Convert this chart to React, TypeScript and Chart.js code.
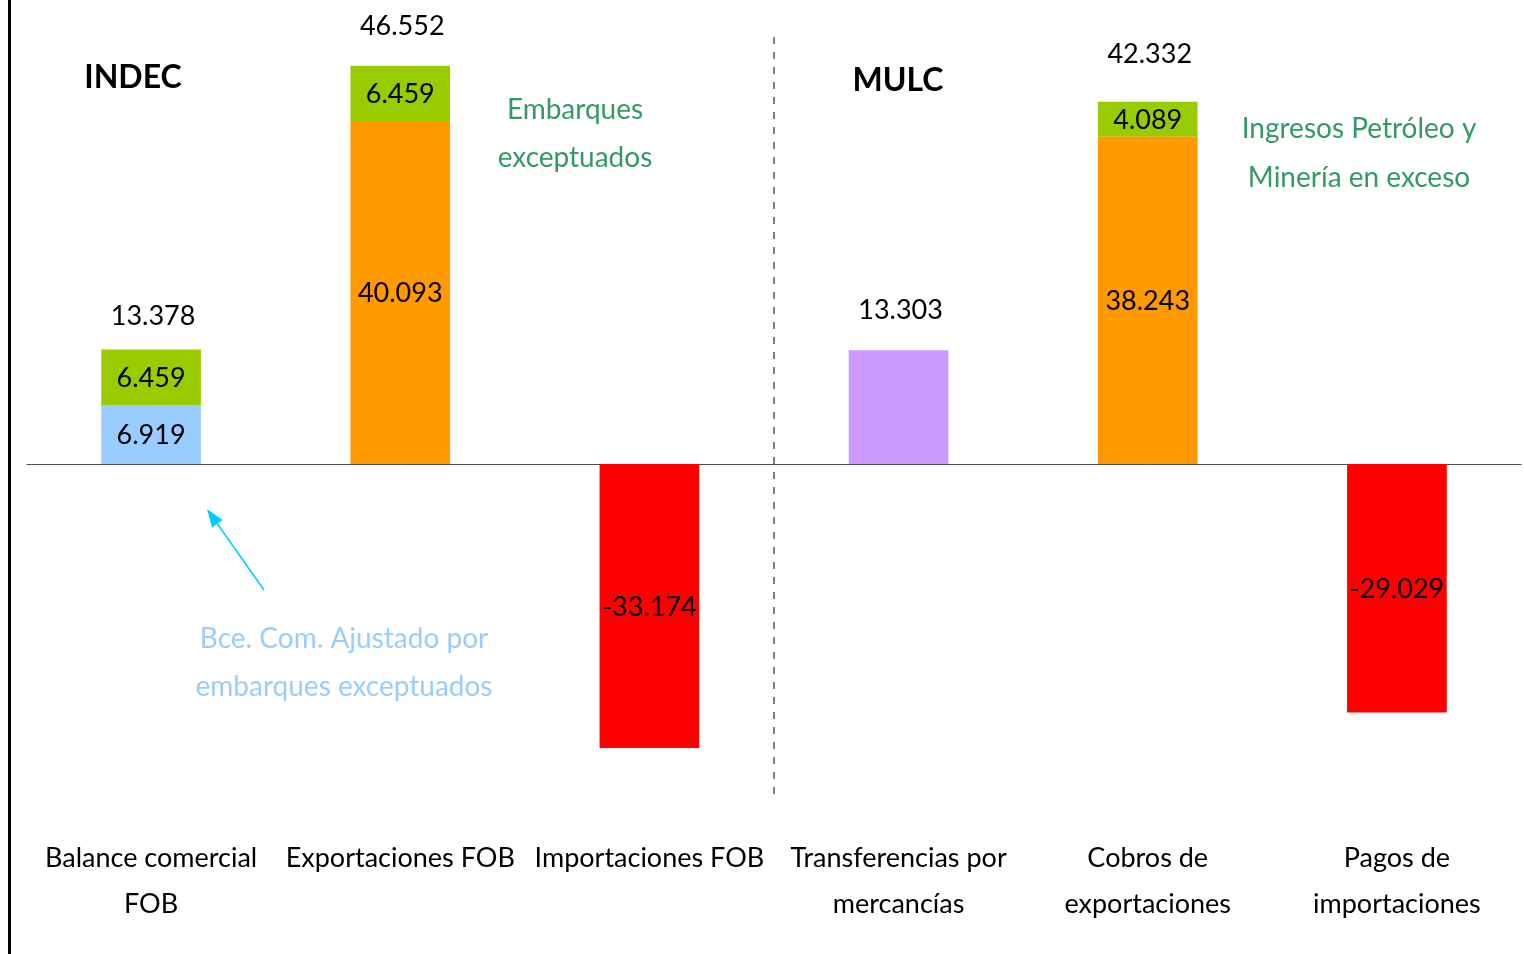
import React, { useEffect, useRef } from 'react';
import { Chart, registerables } from 'chart.js';

Chart.register(...registerables);

// ---- Data (USD millones) ----
const categories: string[][] = [
  ['Balance comercial', 'FOB'],
  ['Exportaciones FOB'],
  ['Importaciones FOB'],
  ['Transferencias por', 'mercancías'],
  ['Cobros de', 'exportaciones'],
  ['Pagos de', 'importaciones'],
];
const bceAjustado = [6919, null, null, null, null, null];
const exportaciones = [null, 40093, null, null, 38243, null];
const embarquesExceptuados = [6459, 6459, null, null, 4089, null];
const transferencias = [null, null, null, 13303, null, null];
const importaciones = [null, null, -33174, null, null, -29029];

const yMin = -42000;
const yMax = 54000;

const FONT = 'Lato, "Open Sans", sans-serif';

function fmt(v: number): string {
  const neg = v < 0;
  const s = Math.round(Math.abs(v)).toString();
  const withDots = s.replace(/\B(?=(\d{3})+(?!\d))/g, '.');
  return (neg ? '-' : '') + withDots;
}

const annotationPlugin = {
  id: 'annotations',
  beforeDatasetsDraw(chart: any) {
    const { ctx, chartArea, scales } = chart;
    const y0 = scales.y.getPixelForValue(0);
    ctx.save();
    ctx.strokeStyle = '#4d4d4d';
    ctx.lineWidth = 1;
    ctx.beginPath();
    ctx.moveTo(chartArea.left, Math.round(y0) + 0.5);
    ctx.lineTo(chartArea.right, Math.round(y0) + 0.5);
    ctx.stroke();
    ctx.restore();
  },
  afterDatasetsDraw(chart: any) {
    const { ctx, scales } = chart;
    const xs = scales.x;
    const ys = scales.y;
    ctx.save();
    ctx.textAlign = 'center';
    ctx.textBaseline = 'middle';

    // inner segment labels
    chart.data.datasets.forEach((ds: any, di: number) => {
      if (!ds.innerLabel) return;
      const meta = chart.getDatasetMeta(di);
      meta.data.forEach((el: any, i: number) => {
        const v = ds.data[i];
        if (v === null || v === undefined) return;
        const cy = (el.y + el.base) / 2;
        ctx.fillStyle = '#000';
        ctx.font = `27px ${FONT}`;
        ctx.fillText(fmt(v), el.x, cy + 1);
      });
    });

    // totals above positive stacks (label gap above bar top, per category)
    const totalGap = [33, 39, 38, 40, 48, 38];
    categories.forEach((_, i) => {
      let total = 0;
      chart.data.datasets.forEach((ds: any) => {
        const v = ds.data[i];
        if (typeof v === 'number' && v > 0) total += v;
      });
      if (total > 0) {
        const px = xs.getPixelForValue(i);
        const py = ys.getPixelForValue(total);
        ctx.fillStyle = '#000';
        ctx.font = `27px ${FONT}`;
        ctx.fillText(fmt(total), px + 2, py - totalGap[i]);
      }
    });

    // dashed separator between INDEC and MULC
    const sepX = (xs.getPixelForValue(2) + xs.getPixelForValue(3)) / 2;
    ctx.strokeStyle = '#555';
    ctx.lineWidth = 1.5;
    ctx.setLineDash([7, 8]);
    ctx.beginPath();
    ctx.moveTo(sepX, 37);
    ctx.lineTo(sepX, 797);
    ctx.stroke();
    ctx.setLineDash([]);

    // section titles
    ctx.fillStyle = '#000';
    ctx.font = `bold 32px ${FONT}`;
    ctx.fillText('INDEC', 133, 78);
    ctx.fillText('MULC', 898, 81);

    // green notes
    ctx.fillStyle = '#339966';
    ctx.font = `28px ${FONT}`;
    ctx.fillText('Embarques', 575, 110);
    ctx.fillText('exceptuados', 575, 158);
    ctx.fillText('Ingresos Petróleo y', 1359, 129);
    ctx.fillText('Minería en exceso', 1359, 178);

    // light blue note
    ctx.fillStyle = '#99CCFF';
    ctx.fillText('Bce. Com. Ajustado por', 344, 639);
    ctx.fillText('embarques exceptuados', 344, 687);

    // arrow
    const ax1 = 264, ay1 = 590, ax2 = 207, ay2 = 509;
    ctx.strokeStyle = '#00CCFF';
    ctx.fillStyle = '#00CCFF';
    ctx.lineWidth = 1.5;
    const ang = Math.atan2(ay2 - ay1, ax2 - ax1);
    const headLen = 18;
    const headW = 6.5;
    const bx = ax2 - headLen * Math.cos(ang);
    const by = ay2 - headLen * Math.sin(ang);
    ctx.beginPath();
    ctx.moveTo(ax1, ay1);
    ctx.lineTo(bx, by);
    ctx.stroke();
    ctx.beginPath();
    ctx.moveTo(ax2, ay2);
    ctx.lineTo(bx + headW * Math.sin(ang), by - headW * Math.cos(ang));
    ctx.lineTo(bx - headW * Math.sin(ang), by + headW * Math.cos(ang));
    ctx.closePath();
    ctx.fill();

    // left frame line
    ctx.fillStyle = '#000';
    ctx.fillRect(8, 0, 3, chart.height);

    ctx.restore();
  },
};

export default function App() {
  const ref = useRef<HTMLCanvasElement | null>(null);

  useEffect(() => {
    if (!ref.current) return;
    const common = { stack: 's', barPercentage: 0.8, categoryPercentage: 0.5, borderWidth: 0 };
    const chart = new Chart(ref.current, {
      type: 'bar',
      data: {
        labels: categories,
        datasets: [
          { label: 'Bce. Com. Ajustado', data: bceAjustado, backgroundColor: '#99CCFF', innerLabel: true, ...common } as any,
          { label: 'Exportaciones', data: exportaciones, backgroundColor: '#FF9900', innerLabel: true, ...common } as any,
          { label: 'Embarques exceptuados', data: embarquesExceptuados, backgroundColor: '#99CC00', innerLabel: true, ...common } as any,
          { label: 'Transferencias', data: transferencias, backgroundColor: '#CC99FF', innerLabel: false, ...common } as any,
          { label: 'Importaciones', data: importaciones, backgroundColor: '#FF0000', innerLabel: true, ...common } as any,
        ],
      },
      options: {
        responsive: false,
        animation: false,
        devicePixelRatio: 1,
        layout: { padding: { top: 2, left: 26.5, right: 2.5, bottom: 14.7 } },
        plugins: {
          legend: { display: false },
          tooltip: { enabled: false },
        },
        scales: {
          x: {
            stacked: true,
            grid: { display: false, drawTicks: false, tickLength: 0 },
            border: { display: false },
            ticks: {
              color: '#000',
              font: { family: FONT, size: 27, lineHeight: 1.7 },
              padding: 12,
              maxRotation: 0,
              minRotation: 0,
              autoSkip: false,
            },
          },
          y: {
            stacked: true,
            min: yMin,
            max: yMax,
            grid: { display: false, drawTicks: false, tickLength: 0 },
            border: { display: false },
            ticks: { display: false },
          },
        },
      },
      plugins: [annotationPlugin],
    } as any);
    return () => chart.destroy();
  }, []);

  return (
    <div style={{ position: 'absolute', left: 0, top: 0, width: 1524, height: 954, background: '#fff' }}>
      <canvas ref={ref} width={1524} height={954} style={{ display: 'block' }} />
    </div>
  );
}
